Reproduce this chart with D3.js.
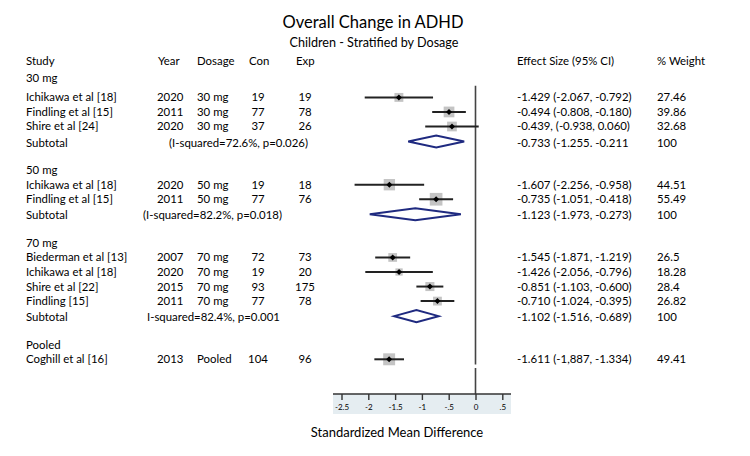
<!DOCTYPE html>
<html><head><meta charset="utf-8">
<script src="https://cdn.jsdelivr.net/npm/d3@7"></script>
<style>body{margin:0;background:#fff;} text{font-family:Lato,"Open Sans",sans-serif;fill:#000;}</style>
</head><body><svg id="c" width="750" height="456"></svg>
<script>
// ---- data ----
const groupLabels = ["30 mg", "50 mg", "70 mg", "Pooled"];
const groupRows = [0.7, 7, 12, 19];

const studies = ["Ichikawa et al [18]", "Findling et al [15]", "Shire et al [24]",
  "Ichikawa et al [18]", "Findling et al [15]",
  "Biederman et al [13]", "Ichikawa et al [18]", "Shire et al [22]", "Findling [15]",
  "Coghill et al [16]"];
const studyRows = [2, 3, 4, 8, 9, 13, 14, 15, 16, 20];
const years = ["2020", "2011", "2020", "2020", "2011", "2007", "2020", "2015", "2011", "2013"];
const dosages = ["30 mg", "30 mg", "30 mg", "50 mg", "50 mg", "70 mg", "70 mg", "70 mg", "70 mg", "Pooled"];
const conN = [19, 77, 37, 19, 77, 72, 19, 93, 77, 104];
const expN = [19, 78, 26, 18, 76, 73, 20, 175, 78, 96];
const effect = [-1.429, -0.494, -0.439, -1.607, -0.735, -1.545, -1.426, -0.851, -0.710, -1.611];
const lower = [-2.067, -0.808, -0.938, -2.256, -1.051, -1.871, -2.056, -1.103, -1.024, -1.887];
const upper = [-0.792, -0.180, 0.060, -0.958, -0.418, -1.219, -0.796, -0.600, -0.395, -1.334];
const weights = [27.46, 39.86, 32.68, 44.51, 55.49, 26.5, 18.28, 28.4, 26.82, 49.41];
const effectLabels = ["-1.429 (-2.067, -0.792)", "-0.494 (-0.808, -0.180)", "-0.439, (-0.938, 0.060)",
  "-1.607 (-2.256, -0.958)", "-0.735 (-1.051, -0.418)",
  "-1.545 (-1.871, -1.219)", "-1.426 (-2.056, -0.796)", "-0.851 (-1.103, -0.600)", "-0.710 (-1.024, -0.395)",
  "-1.611 (-1,887, -1.334)"];
const weightLabels = ["27.46", "39.86", "32.68", "44.51", "55.49", "26.5", "18.28", "28.4", "26.82", "49.41"];

const subRows = [5, 10, 17];
const subEffect = [-0.733, -1.123, -1.102];
const subLower = [-1.255, -1.973, -1.516];
const subUpper = [-0.211, -0.273, -0.689];
const subLabels = ["-0.733 (-1.255. -0.211", "-1.123 (-1.973, -0.273)", "-1.102 (-1.516, -0.689)"];
const hetLabels = ["(I-squared=72.6%, p=0.026)", "(I-squared=82.2%, p=0.018)", "I-squared=82.4%, p=0.001"];
const hetX = [169, 143, 147];

const tickValues = [-2.5, -2, -1.5, -1, -0.5, 0, 0.5];
const tickLabels = ["-2.5", "-2", "-1.5", "-1", "-.5", "0", ".5"];
const headers = ["Study", "Year", "Dosage", "Con", "Exp", "Effect Size (95% CI)", "% Weight"];

// ---- layout ----
const svg = d3.select("#c");
const x = d3.scaleLinear().domain([-2.5, 0.5]).range([341.5, 502.3]);
const y = d3.scaleLinear().domain([0, 20]).range([68.3, 359.3]);
const axisY = 394;
const col = {study: 26, year: 157, dose: 197, con: 258, exp: 305, es: 517, w: 657};
const fs = 11.4;

// titles
svg.append("text").attr("x", 373).attr("y", 28).attr("text-anchor", "middle")
  .style("font-size", "16.5px").text("Overall Change in ADHD");
svg.append("text").attr("x", 374).attr("y", 47).attr("text-anchor", "middle")
  .style("font-size", "12.6px").text("Children - Stratified by Dosage");

// headers
const hx = [col.study, col.year + 1, col.dose, col.con - 9, col.exp - 9, col.es, col.w];
headers.forEach((h, i) => {
  svg.append("text").attr("x", hx[i]).attr("y", y(-0.5)).attr("dy", "0.35em")
    .style("font-size", fs + "px").text(h);
});

// group labels
svg.selectAll(".grp").data(groupLabels).join("text").attr("class", "grp")
  .attr("x", col.study).attr("y", (d, i) => y(groupRows[i])).attr("dy", "0.35em")
  .style("font-size", fs + "px").text(d => d);

// study rows text
const idx = d3.range(studies.length);
const addCol = (arr, cx, anchor) => svg.append("g").selectAll("text").data(idx).join("text")
  .attr("x", cx).attr("y", i => y(studyRows[i])).attr("dy", "0.35em")
  .attr("text-anchor", anchor).style("font-size", fs + "px").text(i => arr[i]);
addCol(studies, col.study, "start");
addCol(years, col.year, "start");
addCol(dosages, col.dose, "start");
addCol(conN, col.con, "middle");
addCol(expN, col.exp, "middle");
addCol(effectLabels, col.es, "start");
addCol(weightLabels, col.w, "start");

// subtotal rows text
const sIdx = d3.range(subRows.length);
const addSub = (fn, xf, anchor) => svg.append("g").selectAll("text").data(sIdx).join("text")
  .attr("x", xf).attr("y", i => y(subRows[i]) + 1.5).attr("dy", "0.35em")
  .attr("text-anchor", anchor).style("font-size", fs + "px").text(fn);
addSub(() => "Subtotal", col.study, "start");
addSub(i => hetLabels[i], i => hetX[i], "start");
addSub(i => subLabels[i], col.es, "start");
addSub(() => "100", col.w, "start");

// axis background band
const bandL = 333, bandR = 511;
svg.append("rect").attr("x", bandL).attr("y", axisY).attr("width", bandR - bandL).attr("height", 20)
  .attr("fill", "#e5edf1");

// null line (with small gap near the bottom, as in reference)
svg.append("line").attr("x1", x(0)).attr("x2", x(0)).attr("y1", y(1.2)).attr("y2", y(20.35))
  .attr("stroke", "#444").attr("stroke-width", 1.6);
svg.append("line").attr("x1", x(0)).attr("x2", x(0)).attr("y1", y(20.6)).attr("y2", axisY)
  .attr("stroke", "#444").attr("stroke-width", 1.6);

// axis
const ax = svg.append("g").attr("transform", `translate(0,${axisY})`)
  .call(d3.axisBottom(x).tickValues(tickValues).tickSize(6).tickSizeOuter(0)
    .tickFormat((d, i) => tickLabels[i]));
ax.select(".domain").remove();
ax.append("line").attr("x1", bandL).attr("x2", bandR).attr("y1", 0).attr("y2", 0)
  .attr("stroke", "#333").attr("stroke-width", 1.6);
ax.selectAll(".tick line").attr("stroke", "#333").attr("stroke-width", 1.4);
ax.selectAll(".tick text").attr("y", 10).style("font-size", "8px")
  .style("font-family", "Lato, sans-serif").attr("fill", "#222");

svg.append("text").attr("x", 397).attr("y", 432).attr("dy", "0.35em").attr("text-anchor", "middle")
  .style("font-size", "13px").text("Standardized Mean Difference");

// study markers
const mk = svg.append("g");
mk.selectAll(".sq").data(idx).join("rect").attr("class", "sq")
  .attr("x", i => x(effect[i]) - Math.sqrt(weights[i]) * 0.85)
  .attr("y", i => y(studyRows[i]) - Math.sqrt(weights[i]) * 0.85)
  .attr("width", i => Math.sqrt(weights[i]) * 1.7)
  .attr("height", i => Math.sqrt(weights[i]) * 1.7)
  .attr("fill", "#c4c4c4");
mk.selectAll(".ci").data(idx).join("line").attr("class", "ci")
  .attr("x1", i => x(lower[i])).attr("x2", i => x(upper[i]))
  .attr("y1", i => y(studyRows[i])).attr("y2", i => y(studyRows[i]))
  .attr("stroke", "#222").attr("stroke-width", 2);
mk.selectAll(".pt").data(idx).join("path").attr("class", "pt")
  .attr("d", i => {
    const cx = x(effect[i]), cy = y(studyRows[i]), r = 3;
    return `M${cx},${cy - r}L${cx + r},${cy}L${cx},${cy + r}L${cx - r},${cy}Z`;
  }).attr("fill", "#000");

// subtotal diamonds
svg.selectAll(".dia").data(sIdx).join("path").attr("class", "dia")
  .attr("d", i => {
    const cy = y(subRows[i]) + 0.5, h = 6;
    return `M${x(subLower[i])},${cy}L${x(subEffect[i])},${cy - h}L${x(subUpper[i])},${cy}L${x(subEffect[i])},${cy + h}Z`;
  })
  .attr("fill", "none").attr("stroke", "#1f2a80").attr("stroke-width", 2);
</script></body></html>
